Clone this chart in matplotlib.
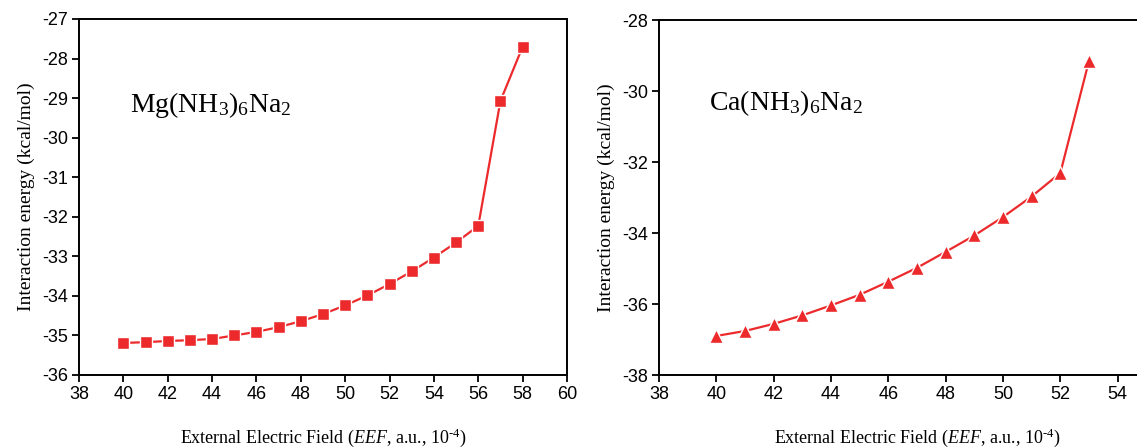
import matplotlib.pyplot as plt

plt.rcParams["font.family"] = ["Liberation Sans", "DejaVu Sans"]
plt.rcParams["axes.unicode_minus"] = False
plt.rcParams["mathtext.fontset"] = "custom"
plt.rcParams["mathtext.rm"] = "Liberation Serif"
plt.rcParams["mathtext.it"] = "Liberation Serif:italic"

# Mg(NH3)6Na2
mg_eef = [40, 41, 42, 43, 44, 45, 46, 47, 48, 49, 50, 51, 52, 53, 54, 55, 56, 57, 58]
mg_energy = [-35.19, -35.17, -35.14, -35.12, -35.09, -35.00, -34.91, -34.79, -34.64,
             -34.46, -34.24, -33.99, -33.70, -33.38, -33.03, -32.65, -32.23, -29.07, -27.70]

# Ca(NH3)6Na2
ca_eef = [40, 41, 42, 43, 44, 45, 46, 47, 48, 49, 50, 51, 52, 53]
ca_energy = [-36.90, -36.76, -36.56, -36.32, -36.04, -35.74, -35.37, -34.98, -34.53,
             -34.07, -33.55, -32.97, -32.31, -29.15]

red = "#ec2a2c"
serif = ["Liberation Serif", "DejaVu Serif"]
xlabel = "External Electric Field ($\\mathit{EEF}$, a.u., 10$^{\u2010 4}$)".replace("\u2010 ", "\u2010")

fig = plt.figure(figsize=(11.37, 4.48), dpi=100)
ax1 = fig.add_axes([79 / 1137, 73 / 448, 488 / 1137, 356 / 448])
ax2 = fig.add_axes([659 / 1137, 73 / 448, 516 / 1137, 355 / 448])


def style(ax):
    for s in ax.spines.values():
        s.set_linewidth(1.4)
    ax.tick_params(direction="out", length=5, width=1.3, labelsize=13,
                   top=False, right=False, pad=3)
    ax.set_ylabel("Interaction energy (kcal/mol)", family=serif, fontsize=14, labelpad=5)
    ax.set_xlabel(xlabel, family=serif, fontsize=13, labelpad=17)


ax1.plot(mg_eef, mg_energy, color=red, lw=1.6, marker="s", ms=8,
         mec="white", mew=1.0, mfc=red)
ax1.set_xlim(38, 60)
ax1.set_ylim(-36, -27)
ax1.set_xticks(range(38, 61, 2))
ax1.set_yticks(range(-36, -26, 1))
style(ax1)
ax1.text(40.3, -29.35, r"$\mathrm{Mg(NH_3)_6Na_2}$", fontsize=20)

ax2.plot(ca_eef, ca_energy, color=red, lw=1.6, marker="^", ms=10,
         mec="white", mew=1.0, mfc=red)
ax2.set_xlim(38, 56)
ax2.set_ylim(-38, -28)
ax2.set_xticks(range(38, 55, 2))
ax2.set_yticks(range(-38, -27, 2))
style(ax2)
ax2.text(39.75, -30.55, r"$\mathrm{Ca(NH_3)_6Na_2}$", fontsize=20)

fig.savefig("out.png", dpi=100)
